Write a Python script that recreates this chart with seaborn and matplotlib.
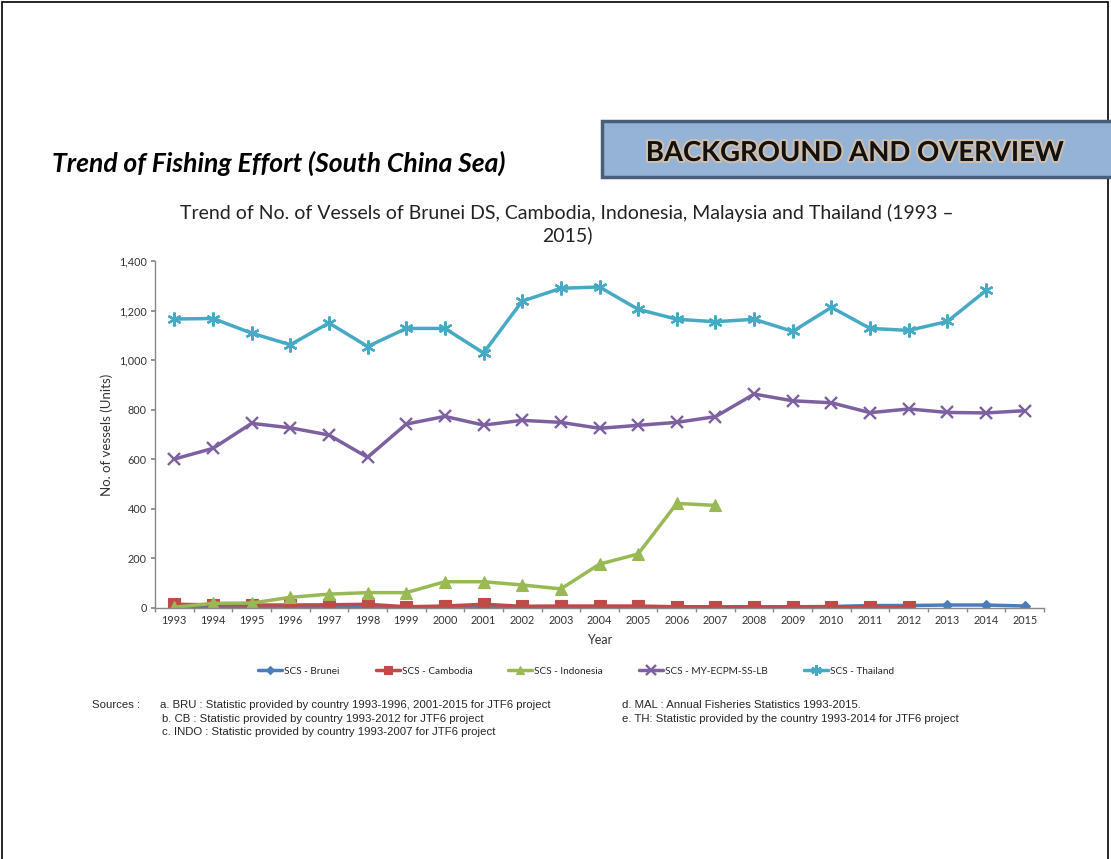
import numpy as np
import pandas as pd
import matplotlib
matplotlib.use("Agg")
import matplotlib.pyplot as plt
import matplotlib.patheffects as pe
from matplotlib.patches import Rectangle
from matplotlib.ticker import FuncFormatter, MultipleLocator
import seaborn as sns

years = list(range(1993, 2016))
nan = np.nan

brunei = [2, 3, 2, 2, nan, nan, nan, nan, 3, 4, 4, 5, 5, 5, 5, 5, 5, 6, 10, 10, 12, 12, 8]
cambodia = [15, 13, 12, 12, 13, 15, 5, 8, 15, 7, 8, 8, 8, 5, 4, 3, 4, 5, 4, 4, nan, nan, nan]
indonesia = [3, 19, 20, 43, 56, 62, 62, 106, 106, 93, 77, 177, 218, 422, 414,
             nan, nan, nan, nan, nan, nan, nan, nan]
malaysia = [601, 644, 745, 727, 698, 608, 742, 773, 738, 757, 749, 725, 737, 749, 772,
            863, 836, 828, 788, 803, 789, 787, 796]
thailand = [1166, 1168, 1109, 1062, 1150, 1055, 1128, 1128, 1029, 1238, 1290, 1295, 1205,
            1165, 1155, 1165, 1116, 1213, 1128, 1120, 1156, 1281, nan]

series_names = ["SCS - Brunei", "SCS - Cambodia", "SCS - Indonesia",
                "SCS - MY-ECPM-SS-LB", "SCS - Thailand"]
series_values = [brunei, cambodia, indonesia, malaysia, thailand]
colors = ["#4A7EBB", "#BE4B48", "#98B954", "#7D60A0", "#46AAC5"]
markers = ["D", "s", "^", "x", (6, 2, 0)]
marker_sizes = [5.5, 8, 8, 9, 10]

title_main = "Trend of Fishing Effort (South China Sea)"
banner_text = "BACKGROUND AND OVERVIEW"
chart_title = ("Trend of No. of Vessels of Brunei DS, Cambodia, Indonesia, Malaysia and Thailand (1993 \u2013\n"
               "2015)")
sources_left = ["a. BRU : Statistic provided by country 1993-1996, 2001-2015 for JTF6 project",
                "b. CB : Statistic provided by country 1993-2012 for JTF6 project",
                "c. INDO : Statistic provided by country 1993-2007 for JTF6 project"]
sources_right = ["d. MAL : Annual Fisheries Statistics 1993-2015.",
                 "e. TH: Statistic provided by the country 1993-2014 for JTF6 project"]

sns.set_theme(style="white")
plt.rcParams["font.family"] = ["Lato", "DejaVu Sans"]

W, H = 1111, 859
fig = plt.figure(figsize=(W / 100, H / 100), dpi=100)
fig.patch.set_facecolor("white")

def fx(px):
    return px / W

def fy(py):
    return 1 - py / H

# slide frame
fig.add_artist(Rectangle((fx(2), -0.05), fx(1106), fy(2) + 0.05, transform=fig.transFigure,
                         fill=False, edgecolor="black", linewidth=1.2))

# heading
fig.text(fx(52), fy(163), title_main, fontsize=19.1, fontweight="bold", fontstyle="italic",
         ha="left", va="center", color="black")

# banner
fig.add_artist(Rectangle((fx(602), fy(177)), fx(560), fy(121) - fy(177), transform=fig.transFigure,
                         facecolor="#95B3D7", edgecolor="#4A5E78", linewidth=2.5))
fig.text(fx(855), fy(153), banner_text, fontsize=19.8, fontweight="bold", ha="center", va="center",
         color="#111111",
         path_effects=[pe.withStroke(linewidth=3, foreground="#E8C49A", alpha=0.7)])

# chart title
fig.text(fx(567), fy(224), chart_title, fontsize=14, ha="center", va="center",
         color="#222222", linespacing=1.3)

ax = fig.add_axes([fx(155), fy(608), fx(1044) - fx(155), fy(261) - fy(608)])
for name, vals, c, m, ms in zip(series_names, series_values, colors, markers, marker_sizes):
    df = pd.DataFrame({"Year": years, "Vessels": vals})
    sns.lineplot(data=df, x="Year", y="Vessels", ax=ax, color=c, marker=m, markersize=ms,
                 markeredgecolor=c, markeredgewidth=1.7 if m in ("x", (6, 2, 0)) else 0.8,
                 linewidth=2.5, label=name, legend=False)

ax.set_xlim(1992.5, 2015.5)
ax.set_ylim(0, 1400)
ax.set_xticks(years)
ax.set_xticklabels([str(y) for y in years], fontsize=7.8, color="#333333")
ax.set_xticks([y + 0.5 for y in years[:-1]] + [1992.5, 2015.5], minor=True)
ax.tick_params(axis="x", which="major", length=0, pad=5)
ax.tick_params(axis="x", which="minor", length=3, direction="out", color="#888888", bottom=True)
ax.yaxis.set_major_locator(MultipleLocator(200))
ax.yaxis.set_major_formatter(FuncFormatter(lambda v, p: f"{int(v):,}"))
ax.tick_params(axis="y", which="major", length=3, direction="out", color="#888888", left=True,
               labelsize=7.8, labelcolor="#333333", pad=3)
for s in ["top", "right"]:
    ax.spines[s].set_visible(False)
for s in ["left", "bottom"]:
    ax.spines[s].set_color("#888888")
    ax.spines[s].set_linewidth(1.0)
ax.set_xlabel("Year", fontsize=9, color="#333333", labelpad=6)
ax.set_ylabel("No. of vessels (Units)", fontsize=9.5, color="#333333", labelpad=4)
ax.grid(False)
ax.set_facecolor("white")

handles, labels = ax.get_legend_handles_labels()
fig.legend(handles, labels, loc="center", bbox_to_anchor=(fx(576), fy(671)), ncol=5,
           frameon=False, fontsize=7.2, handlelength=2.4, handletextpad=0.2, columnspacing=3.6,
           markerscale=0.75)

narrow = ["Liberation Sans Narrow", "Liberation Sans", "DejaVu Sans"]
fig.text(fx(92), fy(705), "Sources :", fontsize=8.2, family=narrow, ha="left", va="center")
for i, line in enumerate(sources_left):
    x0 = 160 if i == 0 else 162
    fig.text(fx(x0), fy(705 + 13.5 * i), line, fontsize=8.2, family=narrow, ha="left", va="center")
for i, line in enumerate(sources_right):
    fig.text(fx(622), fy(705 + 13.5 * i), line, fontsize=8.2, family=narrow, ha="left", va="center")

fig.savefig("out.png", dpi=100, facecolor="white")
